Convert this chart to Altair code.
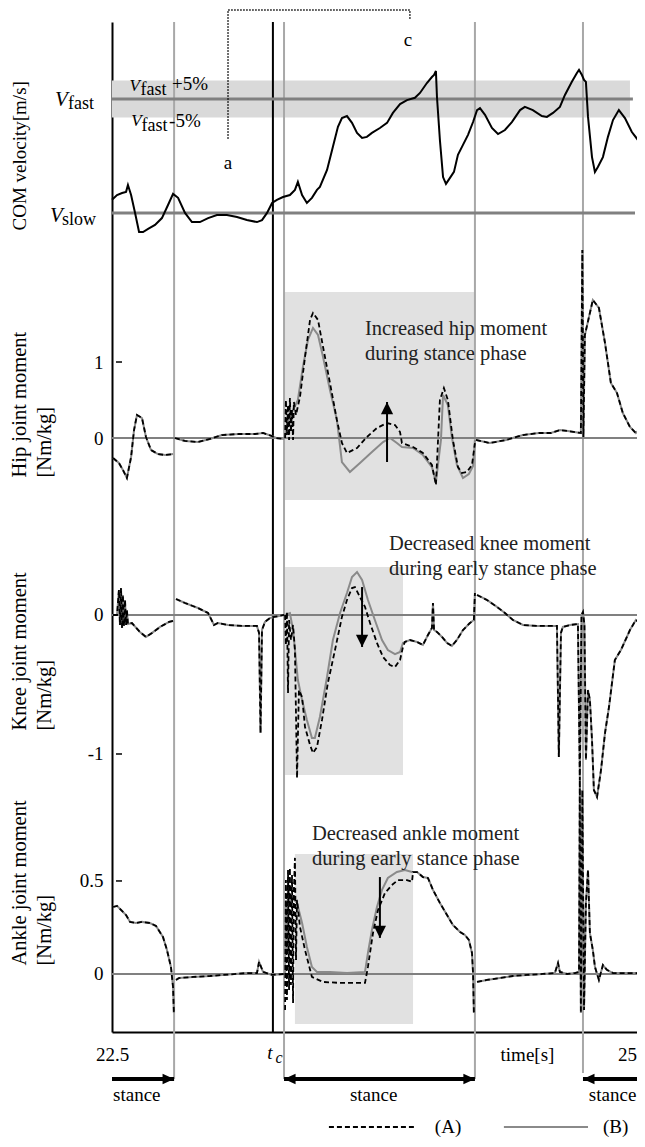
import altair as alt
import pandas as pd

FONT = "Liberation Serif"

# ---------------- time axis ----------------
T_START, T_END = 22.5, 25.0025
TICK_VALUES = [22.5, 24.478, 25.0]
T_C = 23.267
STANCE_LINES = [22.796, 23.320, 24.230, 24.745]
STANCE_LINE_BOTTOM = [-0.565, -0.565, -0.565, -0.532]   # ankle units (below axis)

# ---------------- panel scales (stacked panels in one plot) ----------------
COM_DOMAIN = [-1.974, 1.570]
HIP_DOMAIN = [-7.816, 5.474]
KNEE_DOMAIN = [-3.0, 4.266]
ANKLE_DOMAIN = [-0.312, 5.118]

V_FAST, V_SLOW = 1.3, 0.9
V_FAST_END, V_SLOW_END, BAND_END = 24.983, 24.993, 24.969

# ---------------- COM velocity ----------------
COM_T = [22.500, 22.524, 22.548, 22.567, 22.576, 22.591, 22.610, 22.629, 22.648, 22.672,
         22.705, 22.738, 22.767, 22.791, 22.815, 22.848, 22.881, 22.919, 22.958, 23.000,
         23.048, 23.096, 23.143, 23.191, 23.215, 23.239, 23.263, 23.286, 23.315, 23.348,
         23.372, 23.386, 23.406, 23.429, 23.453, 23.477, 23.491, 23.525, 23.553, 23.577,
         23.596, 23.620, 23.644, 23.668, 23.692, 23.715, 23.739, 23.777, 23.811, 23.839,
         23.873, 23.906, 23.944, 23.968, 24.001, 24.025, 24.035, 24.044, 24.049, 24.063,
         24.078, 24.092, 24.111, 24.130, 24.149, 24.173, 24.197, 24.221, 24.240, 24.254,
         24.278, 24.311, 24.340, 24.373, 24.406, 24.445, 24.468, 24.506, 24.549, 24.573,
         24.602, 24.635, 24.659, 24.692, 24.716, 24.726, 24.740, 24.750, 24.759, 24.769,
         24.788, 24.802, 24.816, 24.840, 24.864, 24.888, 24.916, 24.945, 24.978, 25.007,
         25.040]
COM_V = [0.946, 0.963, 0.970, 0.974, 0.998, 0.963, 0.900, 0.833, 0.833, 0.844,
         0.858, 0.882, 0.928, 0.967, 0.953, 0.900, 0.868, 0.868, 0.882, 0.893,
         0.893, 0.886, 0.875, 0.868, 0.875, 0.900, 0.935, 0.946, 0.956, 0.963,
         0.981, 1.009, 0.963, 0.935, 0.953, 0.981, 0.991, 1.051, 1.132, 1.202,
         1.233, 1.240, 1.216, 1.181, 1.163, 1.167, 1.181, 1.198, 1.216, 1.251,
         1.282, 1.296, 1.304, 1.321, 1.356, 1.377, 1.384, 1.398, 1.307, 1.156,
         1.026, 1.002, 1.023, 1.044, 1.104, 1.139, 1.174, 1.219, 1.261, 1.268,
         1.244, 1.198, 1.177, 1.191, 1.219, 1.261, 1.272, 1.261, 1.240, 1.237,
         1.251, 1.272, 1.314, 1.360, 1.391, 1.402, 1.384, 1.367, 1.360, 1.237,
         1.096, 1.044, 1.061, 1.096, 1.167, 1.226, 1.261, 1.233, 1.184, 1.156,
         1.146]

# bracket a-c
BRACKET_T = [23.053, 23.053, 23.920, 23.920]
BRACKET_V = [1.160, 1.612, 1.612, 1.581]
LETTER_T = [23.053, 23.911]
LETTER_V = [1.075, 1.507]
LETTERS = ["a", "c"]

# ---------------- hip ----------------
HIP_S1_T = [22.505, 22.533, 22.552, 22.571, 22.591, 22.605, 22.619, 22.643, 22.662, 22.686, 22.719, 22.753, 22.791]
HIP_S1 = [-0.263, -0.329, -0.421, -0.526, -0.250, 0.105, 0.303, 0.263, 0.013, -0.158, -0.211, -0.224, -0.211]
HIP_S2_T = [22.800, 22.848, 22.910, 22.967, 23.024, 23.105, 23.182, 23.220, 23.263, 23.282, 23.320]
HIP_S2 = [0.0, -0.039, -0.053, -0.013, 0.039, 0.053, 0.053, 0.066, 0.026, 0.0, -0.013]
HIP_B3_T = [23.325, 23.339, 23.363, 23.386, 23.410, 23.434, 23.458, 23.482, 23.506, 23.539,
            23.572, 23.596, 23.634, 23.682, 23.739, 23.792, 23.825, 23.858, 23.882, 23.935,
            23.982, 24.025, 24.044, 24.068, 24.078, 24.101, 24.120, 24.144, 24.173, 24.201,
            24.221, 24.230]
HIP_B3 = [0.013, 0.237, 0.368, 0.500, 0.934, 1.290, 1.448, 1.355, 1.066, 0.632,
          0.237, -0.316, -0.447, -0.329, -0.184, -0.053, 0.0, -0.066, -0.118, -0.132,
          -0.224, -0.382, -0.579, -0.026, 0.566, 0.434, 0.013, -0.355, -0.526, -0.474,
          -0.368, -0.026]
HIP_A3_T = [23.325, 23.329, 23.334, 23.339, 23.344, 23.348, 23.353, 23.358, 23.363, 23.367,
            23.377, 23.396, 23.420, 23.444, 23.458, 23.482, 23.506, 23.539, 23.572, 23.596,
            23.620, 23.668, 23.715, 23.763, 23.811, 23.849, 23.873, 23.882, 23.935, 23.982,
            24.025, 24.044, 24.063, 24.082, 24.101, 24.125, 24.149, 24.168, 24.192, 24.216,
            24.230]
HIP_A3 = [0.0, 0.500, 0.039, 0.434, -0.026, 0.526, 0.079, 0.368, -0.026, 0.474,
          0.303, 0.540, 1.066, 1.553, 1.645, 1.553, 1.198, 0.724, 0.237, -0.066,
          -0.197, -0.132, 0.013, 0.132, 0.197, 0.171, 0.079, -0.066, -0.118, -0.197,
          -0.355, -0.618, 0.500, 0.658, 0.500, -0.026, -0.382, -0.461, -0.447, -0.355,
          -0.066]
HIP_S4_T = [24.235, 24.301, 24.378, 24.459, 24.535, 24.592, 24.635, 24.673, 24.735, 24.742,
            24.747, 24.754, 24.792, 24.821, 24.850, 24.878, 24.907, 24.935, 24.969, 24.997,
            25.026, 25.040]
HIP_S4 = [-0.026, -0.066, -0.026, 0.039, 0.066, 0.066, 0.105, 0.092, 0.066, 2.474,
          0.013, 1.355, 1.816, 1.711, 1.250, 0.724, 0.592, 0.329, 0.145, 0.066,
          0.145, 0.276]

# ---------------- knee ----------------
KNEE_S1_T = [22.505, 22.524, 22.533, 22.538, 22.543, 22.548, 22.552, 22.557, 22.562, 22.567,
             22.571, 22.576, 22.595, 22.633, 22.662, 22.691, 22.729, 22.772, 22.791]
KNEE_S1 = [0.0, 0.0, 0.180, -0.072, 0.194, -0.094, 0.144, -0.079, 0.108, -0.072,
           0.036, -0.065, -0.058, -0.122, -0.158, -0.129, -0.086, -0.050, -0.043]
KNEE_S2_T = [22.805, 22.848, 22.910, 22.958, 22.986, 23.005, 23.053, 23.124, 23.191, 23.201,
             23.208, 23.215, 23.229, 23.253, 23.272, 23.320]
KNEE_S2 = [0.115, 0.086, 0.050, 0.014, -0.072, -0.058, -0.072, -0.079, -0.079, -0.129,
           -0.849, -0.108, -0.050, -0.022, -0.014, 0.0]
KNEE_B3_T = [23.325, 23.348, 23.363, 23.386, 23.406, 23.429, 23.453, 23.467, 23.491, 23.525,
             23.553, 23.587, 23.620, 23.644, 23.668, 23.692, 23.720, 23.753, 23.787, 23.815,
             23.849, 23.873, 23.887]
KNEE_B3 = [0.0, 0.014, -0.108, -0.468, -0.611, -0.755, -0.885, -0.885, -0.734, -0.446,
           -0.180, 0.014, 0.158, 0.273, 0.309, 0.252, 0.108, -0.036, -0.180, -0.252,
           -0.281, -0.266, -0.201]
KNEE_A3_T = [23.325, 23.329, 23.334, 23.339, 23.344, 23.353, 23.363, 23.372, 23.382, 23.391,
             23.406, 23.420, 23.444, 23.458, 23.477, 23.501, 23.529, 23.563, 23.596, 23.620,
             23.644, 23.658, 23.682, 23.706, 23.730, 23.763, 23.792, 23.825, 23.849, 23.873,
             23.887]
KNEE_A3 = [0.0, -0.216, 0.022, -0.561, -0.036, -0.180, -0.072, -0.252, -1.173, -0.540,
           -0.590, -0.806, -0.935, -0.993, -0.950, -0.755, -0.489, -0.252, -0.014, 0.108,
           0.194, 0.201, 0.129, 0.058, -0.058, -0.201, -0.302, -0.360, -0.374, -0.324,
           -0.230]
KNEE_S3_T = [23.896, 23.920, 23.954, 23.982, 24.006, 24.025, 24.030, 24.035, 24.049, 24.073,
             24.097, 24.120, 24.144, 24.173, 24.206, 24.225, 24.230]
KNEE_S3 = [-0.194, -0.180, -0.194, -0.216, -0.144, -0.094, 0.086, -0.108, -0.122, -0.158,
           -0.201, -0.223, -0.180, -0.108, -0.058, -0.036, 0.158]
KNEE_S4_T = [24.240, 24.287, 24.335, 24.373, 24.411, 24.459, 24.526, 24.588, 24.621, 24.630,
             24.640, 24.649, 24.683, 24.721, 24.730, 24.738, 24.745, 24.752, 24.759, 24.769,
             24.778, 24.788, 24.797, 24.812, 24.831, 24.850, 24.869, 24.897, 24.926, 24.969,
             24.997, 25.016, 25.040]
KNEE_S4 = [0.144, 0.108, 0.058, 0.014, -0.036, -0.072, -0.079, -0.079, -0.079, -1.022,
           -0.129, -0.086, -0.072, -0.065, -1.187, 0.0, 0.022, -0.072, -1.043, -0.540,
           -0.611, -0.899, -1.259, -1.309, -1.115, -0.849, -0.662, -0.324, -0.252, -0.108,
           -0.036, -0.058, -0.129]

# ---------------- ankle ----------------
ANK_S1_T = [22.505, 22.524, 22.543, 22.567, 22.586, 22.614, 22.643, 22.681, 22.710, 22.743,
            22.762, 22.781, 22.791, 22.795]
ANK_S1 = [0.360, 0.366, 0.344, 0.317, 0.280, 0.274, 0.280, 0.274, 0.258, 0.199,
          0.129, 0.038, -0.070, -0.210]
ANK_S2_T = [22.805, 22.819, 22.886, 22.967, 23.143, 23.191, 23.201, 23.220, 23.263, 23.320]
ANK_S2 = [-0.032, -0.022, -0.016, -0.011, 0.005, 0.005, 0.065, 0.011, -0.005, 0.0]
ANK_B3_T = [23.325, 23.329, 23.334, 23.339, 23.348, 23.358, 23.382, 23.406, 23.429, 23.453,
            23.477, 23.539, 23.620, 23.706, 23.720, 23.739, 23.763, 23.787, 23.815, 23.858,
            23.896, 23.930]
ANK_B3 = [0.0, 0.398, 0.129, 0.505, 0.371, 0.409, 0.382, 0.274, 0.145, 0.038,
          0.011, 0.011, 0.005, 0.011, 0.113, 0.237, 0.360, 0.452, 0.516, 0.548,
          0.559, 0.548]
ANK_A3_T = [23.325, 23.329, 23.334, 23.339, 23.344, 23.348, 23.353, 23.358, 23.363, 23.367,
            23.372, 23.377, 23.382, 23.396, 23.420, 23.453, 23.506, 23.587, 23.668, 23.706,
            23.720, 23.744, 23.768, 23.801, 23.834, 23.863, 23.906, 23.930, 23.935]
ANK_A3 = [-0.194, 0.505, -0.140, 0.559, -0.086, 0.570, -0.059, 0.532, -0.156, 0.452,
          0.624, 0.075, 0.398, 0.253, 0.129, -0.016, -0.043, -0.048, -0.048, -0.048,
          0.038, 0.220, 0.344, 0.435, 0.478, 0.505, 0.505, 0.495, 0.548]
ANK_S3_T = [23.954, 23.982, 24.006, 24.030, 24.063, 24.097, 24.125, 24.159, 24.182, 24.201,
            24.216, 24.221, 24.225]
ANK_S3 = [0.548, 0.521, 0.516, 0.452, 0.382, 0.317, 0.263, 0.226, 0.210, 0.183,
          0.113, 0.005, -0.210]
ANK_S4_T = [24.240, 24.287, 24.349, 24.411, 24.478, 24.554, 24.611, 24.626, 24.635, 24.669,
            24.707, 24.726, 24.730, 24.735, 24.742, 24.750, 24.759, 24.769, 24.778, 24.792,
            24.802, 24.821, 24.840, 24.859, 24.888, 24.950, 25.040]
ANK_S4 = [-0.043, -0.032, -0.022, -0.011, -0.005, 0.0, 0.005, 0.059, 0.011, 0.0,
          0.005, 0.011, 1.043, -0.210, 0.989, -0.194, 0.382, 0.559, 0.220, 0.129,
          0.038, -0.032, 0.048, 0.022, 0.005, 0.005, 0.005]

# ---------------- highlighted boxes (t0, t1, y0, y1) ----------------
HIP_BOX = [23.320, 24.230, -0.816, 1.921]
KNEE_BOX = [23.325, 23.887, -1.151, 0.345]
ANKLE_BOX = [23.372, 23.935, -0.269, 0.645]

# ---------------- annotation arrows (t, tail, tip) ----------------
HIP_ARROW = [23.811, -0.316, 0.474]
KNEE_ARROW = [23.692, 0.201, -0.230]
ANKLE_ARROW = [23.777, 0.521, 0.194]

HIP_NOTE = [23.706, 1.355, "Increased hip moment\nduring  stance phase"]
KNEE_NOTE = [23.820, 0.468, "Decreased knee moment\nduring  early  stance phase"]
ANKLE_NOTE = [23.453, 0.720, "Decreased ankle moment\nduring  early  stance phase"]

# ---------------- stance arrows / legend (ankle units, below the axis) ----------------
STANCE_Y = -0.565
STANCE_SHAFT_T0 = [22.5, 23.320, 24.745]
STANCE_SHAFT_T1 = [22.796, 24.230, 25.04]
STANCE_RIGHT_HEADS = [22.796, 24.230]
STANCE_LEFT_HEADS = [23.320, 24.745]
STANCE_TEXT_T = [22.505, 23.634, 24.773]
STANCE_TEXT_Y = -0.683
TC_T = [23.253, 23.296]
TC_Y = [-0.457, -0.478]
LEGEND_Y = -0.823
LEGEND_T0 = [23.534, 24.368]
LEGEND_T1 = [23.939, 24.769]
LEGEND_TEXT_T = [24.039, 24.840]
LEGEND_LABELS = ["(A)", "(B)"]

# ---------------- styles ----------------
GRAY_B = "#8a8a8a"
GRAY_V = "#a8a8a8"
GRAY_H = "#808080"
BOX_C = "#e1e1e1"
BAND_C = "#d9d9d9"
DASH = [5, 3]
RIGHT = "M0,0L-2.2,-1L-2.2,1Z"
LEFT = "M0,0L2.2,-1L2.2,1Z"
UP = "M0,0L-1,2L1,2Z"
DOWN = "M0,0L-1,-2L1,-2Z"
NOTE_SIZE = 20.5
TITLE_SIZE = 20.5

X_AXIS = alt.Axis(values=TICK_VALUES,
                  labelExpr="datum.value == 22.5 ? '22.5' : (datum.value == 25 ? '25' : 'time[s]')",
                  labelAlign={"condition": {"test": "datum.value == 25", "value": "right"},
                              "value": "center"},
                  ticks=False, tickSize=0, grid=False, domain=True, domainColor="black",
                  domainWidth=2, labelFont=FONT, labelFontSize=19, labelColor="black",
                  labelPadding=13, labelBaseline="top", labelFlush=False,
                  labelOverlap=False, title=None)


def Xq(field="t"):
    return alt.X(f"{field}:Q", scale=alt.Scale(domain=[T_START, T_END], nice=False, zero=False),
                 axis=X_AXIS)


def Yq(field, dom, axis=None):
    return alt.Y(f"{field}:Q", scale=alt.Scale(domain=dom, nice=False, zero=False), axis=axis)


def y_axis(title, title_y, values=None, expr=None, domain=False, size=TITLE_SIZE):
    kw = dict(orient="left", grid=False, ticks=False, tickSize=0, domain=domain,
              domainColor="black", domainWidth=2, title=title, titleAngle=270,
              titleAlign="left", titleBaseline="alphabetic", titleX=-87, titleY=title_y,
              titleLineHeight=25, titleFont=FONT, titleFontSize=size,
              titleFontWeight="normal", titleColor="black",
              labelFont=FONT, labelFontSize=19, labelColor="black", labelPadding=9)
    if values is None:
        kw["labels"] = False
        kw["values"] = []
    else:
        kw["values"] = values
        kw["labelExpr"] = expr
    return alt.Axis(**kw)


COM_AXIS = y_axis("COM velocity[m/s]", 208, domain=True, size=19)
HIP_AXIS = y_axis(["Hip joint moment", "[Nm/kg]"], 455, [0, 1],
                  "datum.value == 1 ? '1' : '0'")
KNEE_AXIS = y_axis(["Knee joint moment", "[Nm/kg]"], 708, [-1, 0],
                   "datum.value == -1 ? '-1' : '0'")
ANKLE_AXIS = y_axis(["Ankle joint moment", "[Nm/kg]"], 943, [0, 0.5],
                    "datum.value == 0.5 ? '0.5' : '0'")


def segs(*pairs):
    rows = []
    for k, (ts, ys) in enumerate(pairs):
        rows += [{"t": t, "y": y, "seg": k} for t, y in zip(ts, ys)]
    return pd.DataFrame(rows)


def box(b, dom):
    df = pd.DataFrame({"t0": [b[0]], "t1": [b[1]], "y0": [b[2]], "y1": [b[3]]})
    return alt.Chart(df).mark_rect(color=BOX_C).encode(
        x=Xq("t0"), x2="t1", y=Yq("y0", dom), y2="y1")


def curve(df, dom, dashed):
    if dashed:
        m = alt.Chart(df).mark_line(color="black", strokeWidth=1.8, strokeDash=DASH)
    else:
        m = alt.Chart(df).mark_line(color=GRAY_B, strokeWidth=2)
    return m.encode(x=Xq("t"), y=Yq("y", dom), detail="seg:N")


def zero_line(dom, axis):
    return alt.Chart(pd.DataFrame({"y": [0.0]})).mark_rule(
        color=GRAY_H, strokeWidth=2).encode(y=Yq("y", dom, axis))


def inner_tick(v, dom):
    return alt.Chart(pd.DataFrame({"y": [v]})).mark_rule(
        color="black", strokeWidth=1.5).encode(x=alt.value(4), x2=alt.value(10), y=Yq("y", dom))


def arrow(a, dom):
    df = pd.DataFrame({"t": [a[0]], "y0": [a[1]], "y1": [a[2]]})
    shaft = alt.Chart(df).mark_rule(color="black", strokeWidth=2).encode(
        x=Xq("t"), y=Yq("y0", dom), y2="y1")
    head = alt.Chart(df).mark_point(shape=UP if a[2] > a[1] else DOWN, size=150,
                                    filled=True, color="black", opacity=1, strokeWidth=0).encode(
        x=Xq("t"), y=Yq("y1", dom))
    return [shaft, head]


def note(n, dom):
    df = pd.DataFrame({"t": [n[0]], "y": [n[1]], "label": [n[2]]})
    return alt.Chart(df).mark_text(font=FONT, fontSize=NOTE_SIZE, color="#222222", align="left",
                                   baseline="alphabetic", lineBreak="\n", lineHeight=25).encode(
        x=Xq("t"), y=Yq("y", dom), text="label:N")


def text_at(t, y, label, dom, **kw):
    df = pd.DataFrame({"t": [t], "y": [y], "label": [label]})
    style = dict(font=FONT, fontSize=19, color="black", align="left", baseline="middle")
    style.update(kw)
    return alt.Chart(df).mark_text(**style).encode(x=Xq("t"), y=Yq("y", dom), text="label:N")


def text_px(px, y, label, dom, **kw):
    df = pd.DataFrame({"y": [y], "label": [label]})
    style = dict(font=FONT, fontSize=19, color="black", align="left", baseline="middle")
    style.update(kw)
    return alt.Chart(df).mark_text(**style).encode(x=alt.value(px), y=Yq("y", dom), text="label:N")


layers = []

# backgrounds
band_df = pd.DataFrame({"t0": [T_START], "t1": [BAND_END],
                        "y0": [V_FAST * 0.95], "y1": [V_FAST * 1.05]})
layers.append(alt.Chart(band_df).mark_rect(color=BAND_C).encode(
    x=Xq("t0"), x2="t1", y=Yq("y0", COM_DOMAIN), y2="y1"))
layers += [box(HIP_BOX, HIP_DOMAIN), box(KNEE_BOX, KNEE_DOMAIN), box(ANKLE_BOX, ANKLE_DOMAIN)]

# vertical lines
vdf = pd.DataFrame({"t": STANCE_LINES, "top": [ANKLE_DOMAIN[1]] * len(STANCE_LINES),
                    "bot": STANCE_LINE_BOTTOM})
layers.append(alt.Chart(vdf).mark_rule(color=GRAY_V, strokeWidth=2).encode(
    x=Xq("t"), y=Yq("top", ANKLE_DOMAIN), y2="bot"))
layers.append(alt.Chart(pd.DataFrame({"t": [T_C]})).mark_rule(
    color="black", strokeWidth=2).encode(x=Xq("t")))

# reference lines + axes
vl = pd.DataFrame({"t0": [T_START, T_START], "t1": [V_FAST_END, V_SLOW_END],
                   "v": [V_FAST, V_SLOW]})
layers.append(alt.Chart(vl).mark_rule(color=GRAY_H, strokeWidth=3).encode(
    x=Xq("t0"), x2="t1", y=Yq("v", COM_DOMAIN, COM_AXIS)))
layers += [zero_line(HIP_DOMAIN, HIP_AXIS), zero_line(KNEE_DOMAIN, KNEE_AXIS),
           zero_line(ANKLE_DOMAIN, ANKLE_AXIS)]
layers += [inner_tick(1, HIP_DOMAIN), inner_tick(-1, KNEE_DOMAIN), inner_tick(0.5, ANKLE_DOMAIN)]

# COM curve
layers.append(alt.Chart(pd.DataFrame({"t": COM_T, "v": COM_V})).mark_line(
    color="black", strokeWidth=2).encode(x=Xq("t"), y=Yq("v", COM_DOMAIN)))

# joint curves
hip_B = segs((HIP_S1_T, HIP_S1), (HIP_S2_T, HIP_S2), (HIP_B3_T, HIP_B3), (HIP_S4_T, HIP_S4))
hip_A = segs((HIP_S1_T, HIP_S1), (HIP_S2_T, HIP_S2), (HIP_A3_T, HIP_A3), (HIP_S4_T, HIP_S4))
knee_B = segs((KNEE_S1_T, KNEE_S1), (KNEE_S2_T, KNEE_S2),
              (KNEE_B3_T + KNEE_S3_T, KNEE_B3 + KNEE_S3), (KNEE_S4_T, KNEE_S4))
knee_A = segs((KNEE_S1_T, KNEE_S1), (KNEE_S2_T, KNEE_S2),
              (KNEE_A3_T + KNEE_S3_T, KNEE_A3 + KNEE_S3), (KNEE_S4_T, KNEE_S4))
ank_B = segs((ANK_S1_T, ANK_S1), (ANK_S2_T, ANK_S2),
             (ANK_B3_T + ANK_S3_T, ANK_B3 + ANK_S3), (ANK_S4_T, ANK_S4))
ank_A = segs((ANK_S1_T, ANK_S1), (ANK_S2_T, ANK_S2),
             (ANK_A3_T + ANK_S3_T, ANK_A3 + ANK_S3), (ANK_S4_T, ANK_S4))
layers += [curve(hip_B, HIP_DOMAIN, False), curve(knee_B, KNEE_DOMAIN, False),
           curve(ank_B, ANKLE_DOMAIN, False)]
layers += [curve(hip_A, HIP_DOMAIN, True), curve(knee_A, KNEE_DOMAIN, True),
           curve(ank_A, ANKLE_DOMAIN, True)]

# bracket a - c
bdf = pd.DataFrame({"t": BRACKET_T, "v": BRACKET_V, "i": list(range(len(BRACKET_T)))})
layers.append(alt.Chart(bdf).mark_line(color="black", strokeWidth=1.5, strokeDash=[1.5, 1.5]).encode(
    x=Xq("t"), y=Yq("v", COM_DOMAIN), order="i:Q"))
for t, v, s in zip(LETTER_T, LETTER_V, LETTERS):
    layers.append(text_at(t, v, s, COM_DOMAIN, align="center"))

# V labels on the left and inside the band
layers.append(text_px(-57, V_FAST, "V", COM_DOMAIN, fontStyle="italic", fontSize=21, dy=1))
layers.append(text_px(-44, V_FAST, "fast", COM_DOMAIN, fontSize=18, dy=5))
layers.append(text_px(-62, V_SLOW, "V", COM_DOMAIN, fontStyle="italic", fontSize=21, dy=3))
layers.append(text_px(-50, V_SLOW, "slow", COM_DOMAIN, fontSize=18, dy=7))
layers.append(text_at(22.583, V_FAST * 1.05, "V", COM_DOMAIN, fontStyle="italic", fontSize=17, dy=6))
layers.append(text_at(22.636, V_FAST * 1.05, "fast", COM_DOMAIN, fontSize=18, dy=10))
layers.append(text_at(22.786, V_FAST * 1.05, "+5%", COM_DOMAIN, dy=4))
layers.append(text_at(22.592, V_FAST * 0.95, "V", COM_DOMAIN, fontStyle="italic", fontSize=17, dy=4))
layers.append(text_at(22.641, V_FAST * 0.95, "fast", COM_DOMAIN, fontSize=18, dy=9))
layers.append(text_at(22.772, V_FAST * 0.95, "-5%", COM_DOMAIN, dy=4))

# annotation arrows and notes
layers += arrow(HIP_ARROW, HIP_DOMAIN) + arrow(KNEE_ARROW, KNEE_DOMAIN) + arrow(ANKLE_ARROW, ANKLE_DOMAIN)
layers += [note(HIP_NOTE, HIP_DOMAIN), note(KNEE_NOTE, KNEE_DOMAIN), note(ANKLE_NOTE, ANKLE_DOMAIN)]

# t_c label
layers.append(text_at(TC_T[0], TC_Y[0], "t", ANKLE_DOMAIN, fontStyle="italic",
                      align="center", baseline="alphabetic"))
layers.append(text_at(TC_T[1], TC_Y[1], "c", ANKLE_DOMAIN, fontStyle="italic", fontSize=16,
                      align="center", baseline="alphabetic"))

# stance arrows
sdf = pd.DataFrame({"t0": STANCE_SHAFT_T0, "t1": STANCE_SHAFT_T1, "y": [STANCE_Y] * 3})
layers.append(alt.Chart(sdf).mark_rule(color="black", strokeWidth=4).encode(
    x=Xq("t0"), x2="t1", y=Yq("y", ANKLE_DOMAIN)))
for heads, shape in ((STANCE_RIGHT_HEADS, RIGHT), (STANCE_LEFT_HEADS, LEFT)):
    hdf = pd.DataFrame({"t": heads, "y": [STANCE_Y] * len(heads)})
    layers.append(alt.Chart(hdf).mark_point(shape=shape, size=110, filled=True, color="black",
                                            opacity=1, strokeWidth=0).encode(
        x=Xq("t"), y=Yq("y", ANKLE_DOMAIN)))
stdf = pd.DataFrame({"t": STANCE_TEXT_T, "y": [STANCE_TEXT_Y] * 3, "label": ["stance"] * 3})
layers.append(alt.Chart(stdf).mark_text(font=FONT, fontSize=19, color="black", align="left",
                                        baseline="alphabetic").encode(
    x=Xq("t"), y=Yq("y", ANKLE_DOMAIN), text="label:N"))

# legend
ldf = pd.DataFrame({"t0": LEGEND_T0, "t1": LEGEND_T1, "y": [LEGEND_Y] * 2, "s": ["A", "B"]})
layers.append(alt.Chart(ldf[ldf.s == "A"]).mark_rule(color="black", strokeWidth=2,
                                                     strokeDash=DASH).encode(
    x=Xq("t0"), x2="t1", y=Yq("y", ANKLE_DOMAIN)))
layers.append(alt.Chart(ldf[ldf.s == "B"]).mark_rule(color=GRAY_B, strokeWidth=2).encode(
    x=Xq("t0"), x2="t1", y=Yq("y", ANKLE_DOMAIN)))
ltdf = pd.DataFrame({"t": LEGEND_TEXT_T, "y": [LEGEND_Y] * 2, "label": LEGEND_LABELS})
layers.append(alt.Chart(ltdf).mark_text(font=FONT, fontSize=19, color="black", align="left",
                                        baseline="middle").encode(
    x=Xq("t"), y=Yq("y", ANKLE_DOMAIN), text="label:N"))

chart = alt.layer(*layers).resolve_scale(y="independent").properties(
    width=525, height=1010,
    autosize=alt.AutoSizeParams(type="none"),
    padding={"left": 104, "top": 14, "right": 0, "bottom": 107},
).configure_view(stroke=None)

chart.save("out.html", embed_options={"renderer": "svg", "actions": False})
